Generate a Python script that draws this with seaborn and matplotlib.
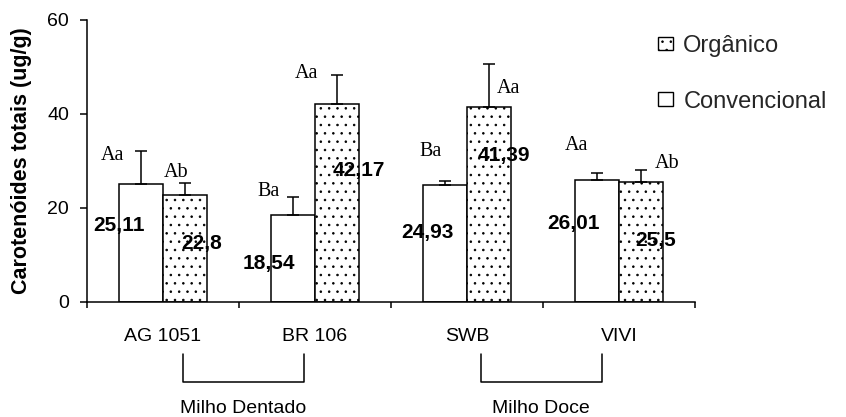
import numpy as np
import pandas as pd
import matplotlib
matplotlib.use("Agg")
import matplotlib.pyplot as plt
import seaborn as sns
from matplotlib.patches import Patch

# Dados: carotenóides totais (ug/g) por cultivar e sistema de cultivo
cultivares = ["AG 1051", "BR 106", "SWB", "VIVI"]
convencional = [25.11, 18.54, 24.93, 26.01]
organico = [22.8, 42.17, 41.39, 25.5]
erro_conv = [7.0, 3.8, 0.9, 1.5]
erro_org = [2.6, 6.2, 9.3, 2.5]
letras_conv = ["Aa", "Ba", "Ba", "Aa"]
letras_org = ["Ab", "Aa", "Aa", "Ab"]
rotulos_conv = ["25,11", "18,54", "24,93", "26,01"]
rotulos_org = ["22,8", "42,17", "41,39", "25,5"]
grupos = ["Milho Dentado", "Milho Doce"]

sns.set_theme(style="ticks")
plt.rcParams["font.family"] = ["Liberation Sans", "DejaVu Sans"]
plt.rcParams["hatch.linewidth"] = 0.6

fig, ax = plt.subplots(figsize=(8.46, 4.17), dpi=100)
fig.subplots_adjust(left=87 / 846, right=695 / 846,
                    bottom=(417 - 302) / 417, top=(417 - 20) / 417)

df = pd.DataFrame({
    "Cultivar": cultivares * 2,
    "Sistema": ["Convencional"] * 4 + ["Orgânico"] * 4,
    "Valor": convencional + organico,
})

sns.barplot(data=df, x="Cultivar", y="Valor", hue="Sistema",
            hue_order=["Convencional", "Orgânico"],
            palette={"Convencional": "white", "Orgânico": "white"},
            edgecolor="black", linewidth=1.1, width=0.58,
            errorbar=None, legend=False, ax=ax)

for barra in ax.containers[1]:
    barra.set_hatch("..")

# barras de erro (apenas para cima)
for cont, erros in zip(ax.containers, [erro_conv, erro_org]):
    xs = [b.get_x() + b.get_width() / 2 for b in cont]
    ys = [b.get_height() for b in cont]
    ax.errorbar(xs, ys, yerr=[np.zeros(len(erros)), erros], fmt="none",
                ecolor="black", elinewidth=1.1, capsize=4.3, capthick=1.1,
                zorder=3)

# deslocamentos (pixels) dos rótulos em relação ao topo de cada barra
desl_valor_conv = [(-22, -42), (-24, -49), (-18, -48), (-23, -44)]
desl_valor_org = [(17, -49), (22, -67), (15, -48), (15, -58)]
desl_letra_conv = [(-28, 28), (-24, 23), (-14, 33), (-20, 34)]
desl_letra_org = [(-9, 22), (-31, 30), (19, 19), (26, 19)]

for cont, rotulos, letras, dv, dl in [
        (ax.containers[0], rotulos_conv, letras_conv, desl_valor_conv, desl_letra_conv),
        (ax.containers[1], rotulos_org, letras_org, desl_valor_org, desl_letra_org)]:
    for b, rot, let, (vx, vy), (lx, ly) in zip(cont, rotulos, letras, dv, dl):
        xc = b.get_x() + b.get_width() / 2
        yt = b.get_height()
        ax.annotate(rot, (xc, yt), xytext=(vx, vy), textcoords="offset pixels",
                    ha="center", va="center", fontsize=15,
                    fontweight="bold", color="black", zorder=4)
        ax.annotate(let, (xc, yt), xytext=(lx, ly), textcoords="offset pixels",
                    ha="center", va="center", fontsize=14.5,
                    family=["Liberation Serif", "DejaVu Serif"], color="black",
                    zorder=4)

ax.set_ylim(0, 60)
ax.set_yticks([0, 20, 40, 60])
ax.set_xlim(-0.5, 3.5)
ax.set_xticks(range(len(cultivares)))
ax.set_xticklabels(cultivares)
ax.set_xticks(np.arange(-0.5, len(cultivares), 1), minor=True)
ax.tick_params(axis="x", which="major", length=0, pad=18.5, labelsize=14,
               colors="black")
ax.tick_params(axis="x", which="minor", length=4.5, width=1.1,
               direction="out", color="black")
ax.tick_params(axis="y", length=5, width=1.1, pad=8, labelsize=14,
               colors="black")

ax.set_xlabel("")
ax.set_ylabel("Carotenóides totais (ug/g)", fontsize=15.5,
              fontweight="bold", color="black")
ax.yaxis.set_label_coords(-0.09, 0.5)

sns.despine(ax=ax)
for s in ("left", "bottom"):
    ax.spines[s].set_linewidth(1.1)
    ax.spines[s].set_color("black")

# chaves dos grupos abaixo do eixo x
trans = ax.get_xaxis_transform()
y_top, y_bot, y_txt = -(354 - 302) / 282, -(382 - 302) / 282, -(413 - 302) / 282
for (x0, x1), nome in zip([(0.13, 0.93), (2.09, 2.885)], grupos):
    ax.plot([x0, x0, x1, x1], [y_top, y_bot, y_bot, y_top], transform=trans,
            clip_on=False, color="black", lw=1.1)
    ax.text((x0 + x1) / 2, y_txt, nome, transform=trans, ha="center",
            va="baseline", fontsize=14, color="black")

handles = [Patch(facecolor="white", edgecolor="black", hatch="..", lw=1.0),
           Patch(facecolor="white", edgecolor="black", lw=1.0)]
ax.legend(handles, ["Orgânico", "Convencional"], loc="upper left",
          bbox_to_anchor=(658 / 846, 1 - 35 / 417),
          bbox_transform=fig.transFigure, frameon=False, fontsize=17,
          borderpad=0, borderaxespad=0, labelspacing=1.42,
          handlelength=0.65, handleheight=0.5, handletextpad=0.42)

fig.savefig("out.png", dpi=100)
